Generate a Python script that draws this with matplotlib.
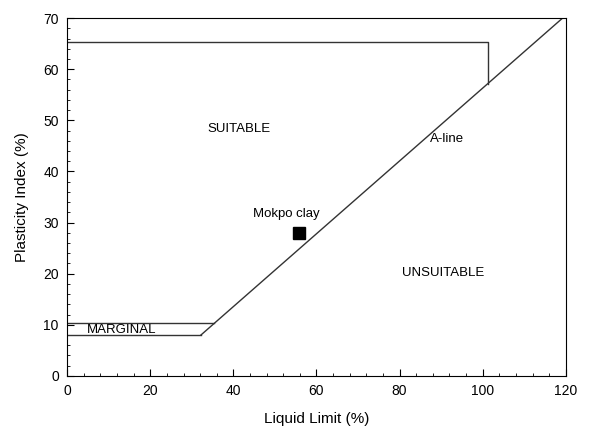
import matplotlib
matplotlib.use("Agg")
import matplotlib.pyplot as plt
from matplotlib.ticker import MultipleLocator

plt.rcParams["font.family"] = ["Liberation Sans", "DejaVu Sans"]

# ── Dados ───────────────────────────────────────────────────
aline_ll = [32.2, 119.2]
aline_pi = [8.0, 70.0]

topo_ll = [0, 101.2, 101.2]
topo_pi = [65.3, 65.3, 57.2]

marg_inf_ll = [0, 32.2]
marg_inf_pi = [8.0, 8.0]
marg_sup_ll = [0, 35.4]
marg_sup_pi = [10.4, 10.4]

mokpo_ll = [55.8]
mokpo_pi = [28.0]

rotulos = ["SUITABLE", "A-line", "Mokpo clay", "UNSUITABLE", "MARGINAL"]
rot_ll = [33.7, 87.3, 44.7, 80.6, 4.8]
rot_pi = [48.3, 46.3, 31.7, 20.1, 9.0]

fig = plt.figure(figsize=(6, 4.33), dpi=100)
ax = fig.add_axes([0.112, 0.132, 0.831, 0.826])

cor = "#333333"
ax.plot(aline_ll, aline_pi, color=cor, lw=1)
ax.plot(topo_ll, topo_pi, color=cor, lw=1)
ax.plot(marg_inf_ll, marg_inf_pi, color=cor, lw=1)
ax.plot(marg_sup_ll, marg_sup_pi, color=cor, lw=1)
ax.plot(mokpo_ll, mokpo_pi, "s", color="black", ms=8)

for txt, x, y in zip(rotulos, rot_ll, rot_pi):
    ax.text(x, y, txt, fontsize=9.5, ha="left", va="center")

ax.set_xlim(0, 120)
ax.set_ylim(0, 70)
ax.xaxis.set_major_locator(MultipleLocator(20))
ax.xaxis.set_minor_locator(MultipleLocator(4))
ax.yaxis.set_major_locator(MultipleLocator(10))
ax.yaxis.set_minor_locator(MultipleLocator(2))
ax.tick_params(which="major", direction="in", length=5, labelsize=10, pad=6)
ax.tick_params(which="minor", direction="in", length=2.5)
ax.set_xlabel("Liquid Limit (%)", fontsize=11, labelpad=10)
ax.set_ylabel("Plasticity Index (%)", fontsize=11, labelpad=10)

plt.savefig("out.png", dpi=100)
